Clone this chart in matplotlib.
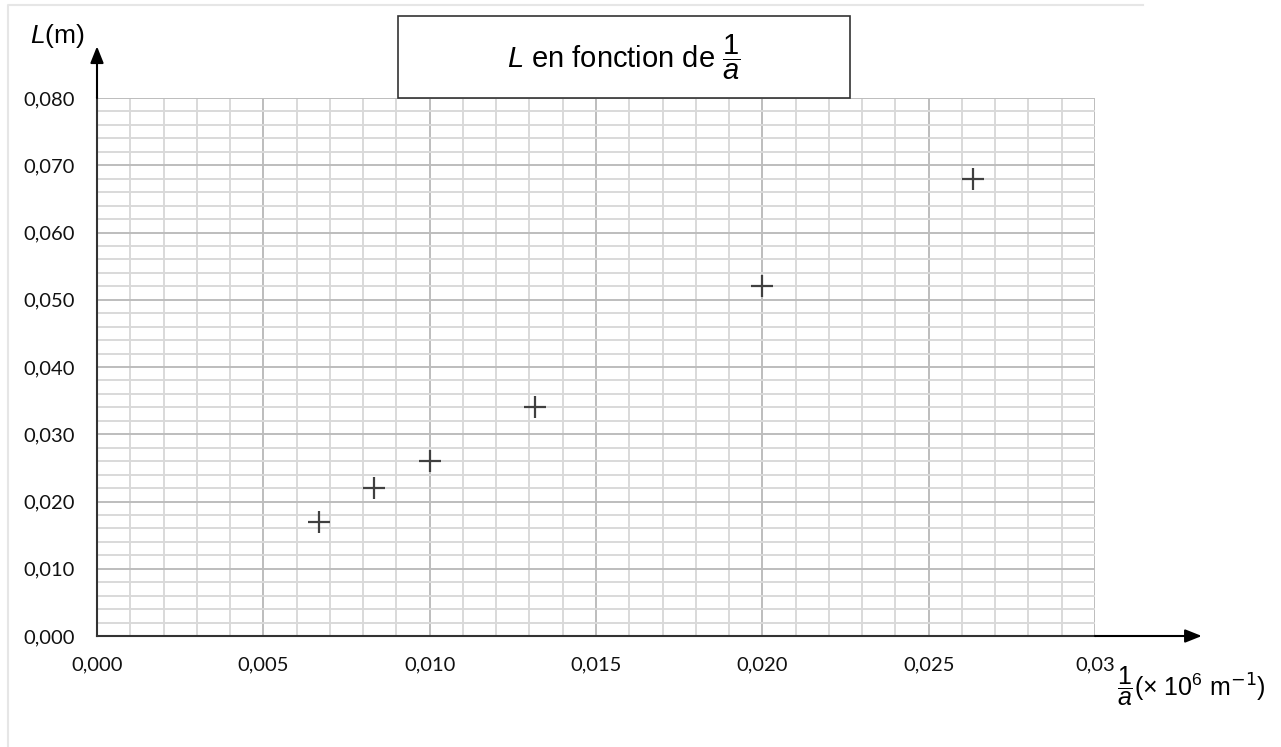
import matplotlib.pyplot as plt
from matplotlib.lines import Line2D
from matplotlib.ticker import MultipleLocator

inv_a = [0.00667, 0.00833, 0.0100, 0.01316, 0.0200, 0.02632]
L_vals = [0.017, 0.022, 0.026, 0.034, 0.052, 0.068]

x_ticks = [0.000, 0.005, 0.010, 0.015, 0.020, 0.025, 0.030]
x_labels = ["0,000", "0,005", "0,010", "0,015", "0,020", "0,025", "0,03"]
y_ticks = [0.00, 0.01, 0.02, 0.03, 0.04, 0.05, 0.06, 0.07, 0.08]
y_labels = ["0,000", "0,010", "0,020", "0,030", "0,040", "0,050", "0,060", "0,070", "0,080"]

plt.rcParams['mathtext.fontset'] = 'custom'
plt.rcParams['mathtext.rm'] = 'Liberation Sans'
plt.rcParams['mathtext.it'] = 'Liberation Sans:italic'

px = 1/100
fig = plt.figure(figsize=(1281*px, 747*px), dpi=100)
ax = fig.add_axes([97/1281, 1-636/747, 998/1281, 538/747])

ax.set_xlim(0, 0.03)
ax.set_ylim(0, 0.08)
ax.xaxis.set_minor_locator(MultipleLocator(0.001))
ax.yaxis.set_minor_locator(MultipleLocator(0.002))
ax.set_xticks(x_ticks, x_labels)
ax.set_yticks(y_ticks, y_labels)
ax.grid(which='minor', color='#d9d9d9', lw=1.4)
ax.grid(which='major', color='#bdbdbd', lw=1.4)
ax.set_axisbelow(True)
ax.tick_params(which='both', length=0)
ax.tick_params(axis='x', pad=15)
ax.tick_params(axis='y', pad=16)
for lab in ax.get_xticklabels() + ax.get_yticklabels():
    lab.set_fontfamily('Lato')
    lab.set_fontsize(14.5)
    lab.set_color('#111111')

for s in ['top', 'right']:
    ax.spines[s].set_visible(False)
ax.spines['left'].set_color('#333333')
ax.spines['bottom'].set_color('#333333')
ax.spines['left'].set_linewidth(1.5)
ax.spines['bottom'].set_linewidth(1.5)

# arrows extending the axes
ax.annotate('', xy=(1.107, 0), xytext=(1.0, 0), xycoords='axes fraction',
            arrowprops=dict(arrowstyle='-|>,head_length=1.0,head_width=0.4', color='black', lw=1.5,
                            shrinkA=0, shrinkB=0), annotation_clip=False)
ax.annotate('', xy=(0, 1.096), xytext=(0, 1.0), xycoords='axes fraction',
            arrowprops=dict(arrowstyle='-|>,head_length=1.0,head_width=0.4', color='black', lw=1.5,
                            shrinkA=0, shrinkB=0), annotation_clip=False)

ax.plot(inv_a, L_vals, linestyle='none', marker='+', markersize=16,
        markeredgewidth=1.6, color='#404040', clip_on=False)

# title box
fig.patches.append(plt.Rectangle((398/1281, 1-98/747), 452/1281, 82/747,
                                 transform=fig.transFigure, fc='white', ec='#333333', lw=1.2, zorder=0))
fig.text(624/1281, 1-57/747, r"$\mathit{L}$ en fonction de $\dfrac{\mathit{1}}{\mathit{a}}$",
         ha='center', va='center', fontsize=21, family='Liberation Sans')

fig.text(30/1281, 1-36/747, r"$\mathit{L}$(m)", ha='left', va='center',
         fontsize=19, family='Liberation Sans')
fig.text(1117/1281, 1-686/747, r"$\dfrac{\mathit{1}}{\mathit{a}}$(× 10$^{6}$ m$^{\mathsf{-1}}$)",
         ha='left', va='center', fontsize=18, family='Liberation Sans')

# light outer frame
fig.lines.append(Line2D([8/1281, 8/1281, 1143/1281], [0, 1-5/747, 1-5/747],
                        transform=fig.transFigure, color='#e6e6e6', lw=1.5))

fig.savefig('out.png', dpi=100)
